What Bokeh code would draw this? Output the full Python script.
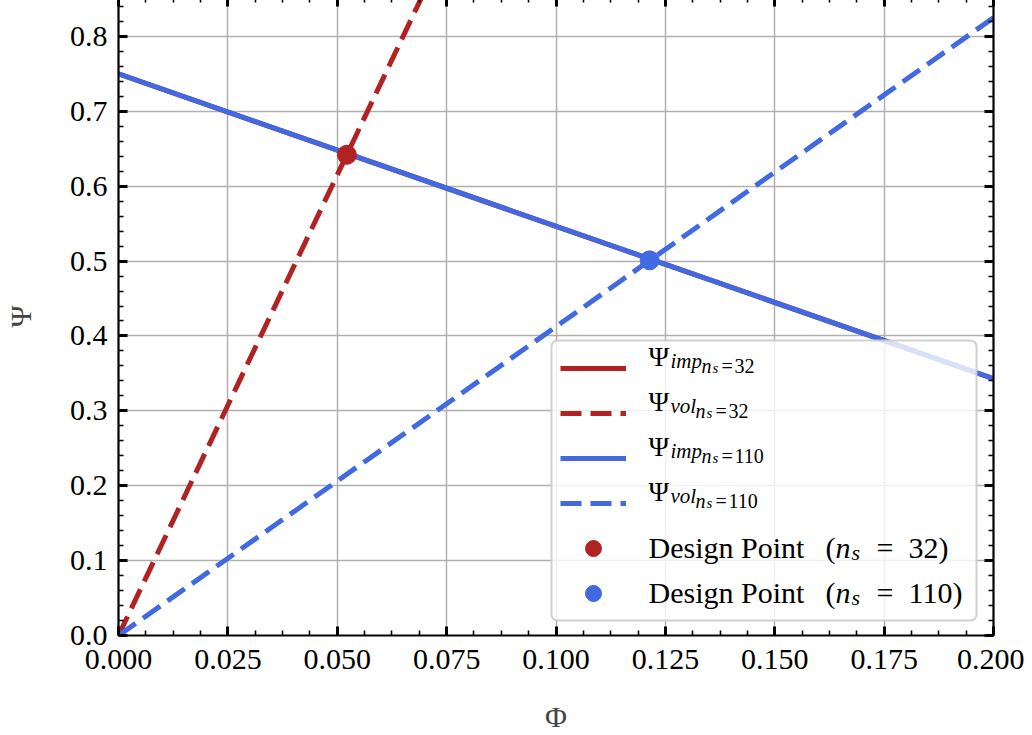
from bokeh.plotting import figure
from bokeh.models import (Range1d, LinearAxis, SingleIntervalTicker, NumeralTickFormatter,
                          Legend, LegendItem, Label, BoxAnnotation)
from bokeh.embed import file_html
from bokeh.resources import INLINE

# ---------------- data ----------------
phi_line = [0.0, 0.2]
psi_imp_32 = [0.750, 0.343]
psi_imp_110 = [0.750, 0.343]
psi_vol_32 = [0.0, 2.46]
psi_vol_110 = [0.0, 0.825]
phi_design = [0.0522, 0.1214]
psi_design = [0.642, 0.501]

RED = "#b22222"
BLUE = "#4169e1"
FONT = "Liberation Serif"

p = figure(width=1024, height=738, x_range=Range1d(0.0, 0.2), y_range=Range1d(0.0, 0.852),
           output_backend="svg", toolbar_location=None,
           min_border_left=112, min_border_right=31, min_border_top=0, min_border_bottom=100,
           styles={"margin-top": "-3px", "margin-bottom": "-8px"})
p.outline_line_color = None
p.background_fill_color = "white"

xticker = SingleIntervalTicker(interval=0.025, num_minor_ticks=4)
yticker = SingleIntervalTicker(interval=0.1, num_minor_ticks=5)

def style_axis(ax, show_labels):
    ax.axis_line_width = 2.2
    ax.axis_line_color = "black"
    ax.major_tick_in = 9
    ax.major_tick_out = 0
    ax.minor_tick_in = 5
    ax.minor_tick_out = 0
    ax.major_tick_line_width = 3
    ax.minor_tick_line_width = 1.6
    ax.major_tick_line_color = "black"
    ax.minor_tick_line_color = "black"
    ax.major_label_text_font = FONT
    if show_labels:
        ax.major_label_text_font_size = "30px"
        ax.major_label_text_color = "black"
    else:
        ax.major_label_text_font_size = "1px"
        ax.major_label_text_color = None
        ax.major_label_standoff = 0
        ax.axis_label_standoff = 0

xa = p.xaxis[0]
xa.ticker = xticker
xa.formatter = NumeralTickFormatter(format="0.000")
style_axis(xa, True)
xa.major_label_standoff = 14
xa.axis_label = "Φ"
xa.axis_label_text_font = FONT
xa.axis_label_text_font_size = "30px"
xa.axis_label_text_font_style = "normal"
xa.axis_label_standoff = 28

ya = p.yaxis[0]
ya.ticker = yticker
ya.formatter = NumeralTickFormatter(format="0.0")
style_axis(ya, True)
ya.major_label_standoff = 11
ya.axis_label = "Ψ"
ya.axis_label_text_font = FONT
ya.axis_label_text_font_size = "30px"
ya.axis_label_text_font_style = "normal"
ya.axis_label_standoff = 30

ra = LinearAxis(ticker=yticker)
style_axis(ra, False)
p.add_layout(ra, "right")
ta = LinearAxis(ticker=xticker)
style_axis(ta, False)
p.add_layout(ta, "above")

p.xgrid.ticker = xticker
p.ygrid.ticker = yticker
for g in (p.xgrid[0], p.ygrid[0]):
    g.grid_line_color = "#b0b0b0"
    g.grid_line_width = 1.5
    g.minor_grid_line_color = None

LW = 5
DASH = "21 9"
r1 = p.line(phi_line, psi_imp_32, line_color=RED, line_width=LW)
r2 = p.line(phi_line, psi_vol_32, line_color=RED, line_width=LW, line_dash=DASH)
r3 = p.line(phi_line, psi_imp_110, line_color=BLUE, line_width=LW)
r4 = p.line(phi_line, psi_vol_110, line_color=BLUE, line_width=LW, line_dash=DASH)
r5 = p.scatter([phi_design[0]], [psi_design[0]], size=19, fill_color=RED, line_color=RED)
r6 = p.scatter([phi_design[1]], [psi_design[1]], size=19, fill_color=BLUE, line_color=BLUE)

# ---------------- legend ----------------
FW = 873
LEG_MARGIN, LEG_PAD, ITEM_H, SPACING = 15, 8, 40, 5
GLYPH_W, STANDOFF, LABEL_W = 66, 22, 321
leg_w = 2 * LEG_PAD + GLYPH_W + STANDOFF + LABEL_W
leg_h = 2 * LEG_PAD + 6 * ITEM_H + 5 * SPACING
leg_left = FW - LEG_MARGIN - leg_w
leg_top = LEG_MARGIN + leg_h
text_x = leg_left + LEG_PAD + GLYPH_W + STANDOFF

# translucent legend panel (drawn first so that the text sits on top of it)
box = BoxAnnotation(left=leg_left, right=leg_left + leg_w, bottom=LEG_MARGIN, top=leg_top - 1,
                    left_units="screen", right_units="screen",
                    bottom_units="screen", top_units="screen",
                    fill_color="white", fill_alpha=0.8,
                    line_color="#cccccc", line_width=2, line_alpha=0.9)
try:
    box.border_radius = 6
except Exception:
    pass
p.add_layout(box)

items = [LegendItem(label="", renderers=[r]) for r in (r1, r2, r3, r4, r5, r6)]
legend = Legend(items=items, location=(leg_left + 9, LEG_MARGIN + 7), margin=0, padding=LEG_PAD,
                spacing=SPACING, glyph_width=GLYPH_W, glyph_height=ITEM_H,
                label_width=LABEL_W, label_height=ITEM_H, label_standoff=STANDOFF,
                label_text_font_size="1px", label_text_color=None,
                background_fill_alpha=0, border_line_color=None)
p.add_layout(legend, "center")

PSI_CORR = 10   # vertical calibration of text pieces (px, upward)
DP_CORR = 5

def piece(row, dx, dy, txt, size, style="normal", corr=0):
    cy = leg_top - LEG_PAD - ITEM_H / 2 - row * (ITEM_H + SPACING)
    p.add_layout(Label(x=text_x + dx, y=cy - dy + corr, x_units="screen", y_units="screen",
                       text=txt, text_font=FONT, text_font_size=f"{size}px",
                       text_font_style=style, text_color="black",
                       text_baseline="alphabetic", text_align="left", level="overlay"))

psi_rows = [("imp", "32", 0), ("vol", "32", -6), ("imp", "110", 0), ("vol", "110", -6)]
for i, (sub, ns, shift) in enumerate(psi_rows):
    piece(i, 1, -1, "Ψ", 28, corr=PSI_CORR)
    piece(i, 23, 3, sub, 21, "italic", corr=PSI_CORR)
    piece(i, 54 + shift, 8, "n", 20, "italic", corr=PSI_CORR)
    piece(i, 65 + shift, 10, "s", 15, "italic", corr=PSI_CORR)
    piece(i, 74 + shift, 8, "=", 20, corr=PSI_CORR)
    piece(i, 87 + shift, 8, ns, 20, corr=PSI_CORR)

for j, ns in enumerate(["32", "110"]):
    row = 4 + j
    piece(row, 1, 5, "Design Point", 30, corr=DP_CORR)
    piece(row, 178, 5, "(", 30, corr=DP_CORR)
    piece(row, 188, 5, "n", 30, "italic", corr=DP_CORR)
    piece(row, 204, 10, "s", 22, "italic", corr=DP_CORR)
    piece(row, 229, 5, "=", 30, corr=DP_CORR)
    piece(row, 261, 5, ns + ")", 30, corr=DP_CORR)

open("out.html", "w").write(file_html(p, INLINE))
